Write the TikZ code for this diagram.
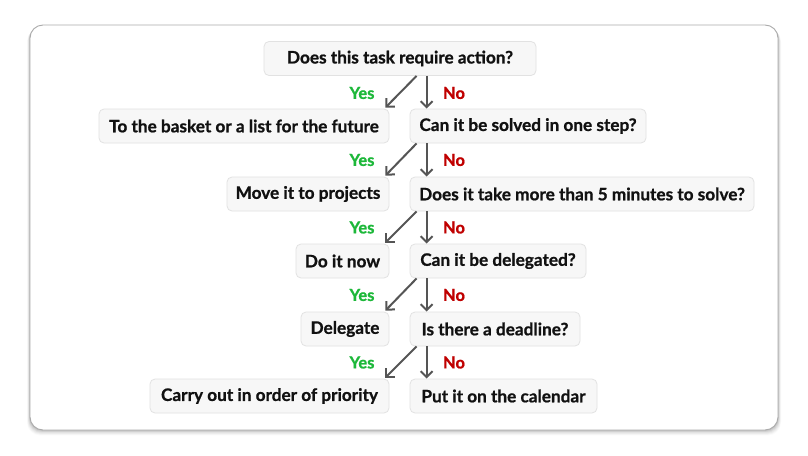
\documentclass[tikz,border=0pt]{standalone}
\usepackage{fontspec}
\setmainfont{Lato}[BoldFeatures={FakeBold=0.9}]
\usetikzlibrary{arrows.meta,calc}
\definecolor{boxfill}{HTML}{F7F7F7}
\definecolor{boxline}{HTML}{E2E2E2}
\definecolor{arrowcol}{HTML}{555555}
\definecolor{yescol}{HTML}{1DB83A}
\definecolor{nocol}{HTML}{C00000}
\definecolor{framecol}{HTML}{AAAAAA}
\definecolor{txtcol}{HTML}{111111}
\tikzset{
  box/.style={draw=boxline, fill=boxfill, rounded corners=5pt, line width=0.8pt,
    minimum height=34pt, inner sep=0pt, text=txtcol,
    font=\fontsize{17.2}{19}\selectfont\bfseries},
  arr/.style={draw=arrowcol, line width=2pt, -{Straight Barb[length=6pt,width=12pt,line width=2pt]}},
  yeslab/.style={text=yescol, font=\fontsize{16.5}{18}\selectfont\bfseries, inner sep=0pt},
  nolab/.style={text=nocol, font=\fontsize{16.5}{18}\selectfont\bfseries, inner sep=0pt},
}
\begin{document}
\begin{tikzpicture}[x=1pt,y=-1pt]
\useasboundingbox (0,0) rectangle (808,455);
% frame with soft shadow
\foreach \i/\o in {6/0.02,5/0.03,4/0.04,3/0.05,2/0.06,1/0.07}{
  \fill[black,opacity=\o,rounded corners=13pt] (30-\i*0.5,25+\i*0.6) rectangle (778+\i*0.5,430+\i*0.9);
}
\draw[framecol, fill=white, line width=0.9pt, rounded corners=13pt] (30,25) rectangle (778,430);

\node[box, minimum width=272pt] (q1) at (400,58.5) {Does this task require action?};
\node[box, minimum width=290pt] (a1) at (244,126) {To the basket or a list for the future};
\node[box, minimum width=236pt] (q2) at (528,126) {Can it be solved in one step?};
\node[box, minimum width=162pt] (a2) at (308,194) {Move it to projects};
\node[box, minimum width=344pt] (q3) at (582,194) {Does it take more than 5 minutes to solve?};
\node[box, minimum width=93pt] (a3) at (342.5,261) {Do it now};
\node[box, minimum width=176pt] (q4) at (498,261) {Can it be delegated?};
\node[box, minimum width=88pt] (a4) at (345,329) {Delegate};
\node[box, minimum width=170pt] (q5) at (495,329) {Is there a deadline?};
\node[box, minimum width=239pt] (a5) at (269.5,396) {Carry out in order of priority};
\node[box, minimum width=187pt] (q6) at (503.5,396) {Put it on the calendar};

% connectors
\coordinate (s1) at ($(q1.south -| q2.west)+(7,0)$);
\coordinate (d1) at ($(q1.south -| q2.west)+(17,0)$);
\draw[arr] (s1) -- ($(a1.north east)+(-4,-1)$);
\draw[arr] (d1) -- (d1 |- q2.north);
\node[yeslab] (y1) at (362,93) {Yes};
\node[nolab] (n1) at (454,93) {No};

\foreach \q/\a/\nq/\k in {q2/a2/q3/2,q3/a3/q4/3,q4/a4/q5/4,q5/a5/q6/5}{
  \draw[arr] ($(\q.south west)+(7,0)$) -- ($(\a.north east)+(-4,-1)$);
  \draw[arr] ($(\q.south west)+(17,0)$) -- ($(\nq.north west)+(17,0)$);
}
\path let \p1=(q2.south), \p2=(q3.north) in node[yeslab] (y2) at (362,{(\y1+\y2)/2}) {Yes};
\path let \p1=(q2.south), \p2=(q3.north) in node[nolab] (n2) at (454,{(\y1+\y2)/2}) {No};
\path let \p1=(q3.south), \p2=(q4.north) in node[yeslab] (y3) at (362,{(\y1+\y2)/2}) {Yes};
\path let \p1=(q3.south), \p2=(q4.north) in node[nolab] (n3) at (454,{(\y1+\y2)/2}) {No};
\path let \p1=(q4.south), \p2=(q5.north) in node[yeslab] (y4) at (362,{(\y1+\y2)/2}) {Yes};
\path let \p1=(q4.south), \p2=(q5.north) in node[nolab] (n4) at (454,{(\y1+\y2)/2}) {No};
\path let \p1=(q5.south), \p2=(q6.north) in node[yeslab] (y5) at (362,{(\y1+\y2)/2}) {Yes};
\path let \p1=(q5.south), \p2=(q6.north) in node[nolab] (n5) at (454,{(\y1+\y2)/2}) {No};
\end{tikzpicture}
\end{document}
